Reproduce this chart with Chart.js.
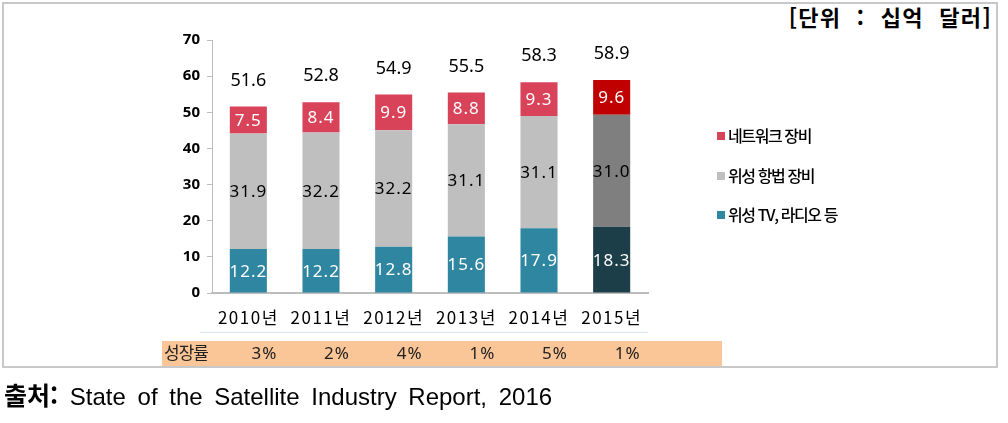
<!DOCTYPE html>
<html lang="ko">
<head>
<meta charset="utf-8">
<script src="https://cdn.jsdelivr.net/npm/chart.js@4"></script>
<style>
  html, body { margin: 0; padding: 0; background: #fff; }
  body { width: 1008px; height: 423px; position: relative; overflow: hidden;
         font-family: "Noto Sans CJK KR", "Noto Sans", sans-serif; }
  #frame { position: absolute; left: 2px; top: 2px; width: 996px; height: 366px;
           border: 2px solid #c8c8c8; box-sizing: border-box; }
  #unit { position: absolute; right: 16px; top: 0px; font-size: 22px; font-weight: 700;
          color: #000; word-spacing: 8px; letter-spacing: 1.3px; }
  #band { position: absolute; left: 162px; top: 341px; width: 560px; height: 25px; background: #fac597; }
  #sep { position: absolute; left: 200px; top: 332px; width: 448px; height: 1px; background: #dde3ea; }
  #chartWrap { position: absolute; left: 0; top: 0; width: 1008px; height: 423px; }
  #legend { position: absolute; left: 717px; top: 123px; font-size: 16px; letter-spacing: -1.4px; color: #000; font-weight: 500; }
  #legend div { height: 39.5px; display: flex; align-items: flex-start; }
  #legend span.sw { display: inline-block; width: 8px; height: 8px; margin: 9px 3px 0 0; }
  #source { position: absolute; left: 4px; top: 376px; font-family: "Liberation Sans", Arial, sans-serif;
            font-size: 24px; color: #000; word-spacing: 5px; white-space: nowrap; }
  #source b { font-family: "Noto Sans CJK KR", sans-serif; font-weight: 700; font-size: 25px; }
</style>
</head>
<body>
<div id="frame"></div>
<div id="unit">[단위 : 십억 달러]</div>
<div id="sep"></div>
<div id="band"></div>
<div id="chartWrap"><canvas id="c" width="1008" height="423"></canvas></div>
<div id="legend"></div>
<div id="source"><b>출처:</b> State of the Satellite Industry Report, 2016</div>
<script>
// ── DATA ──────────────────────────────────────────────────────
const years = ['2010년', '2011년', '2012년', '2013년', '2014년', '2015년'];
const tvRadio = [12.2, 12.2, 12.8, 15.6, 17.9, 18.3];   // 위성 TV, 라디오 등
const navEquip = [31.9, 32.2, 32.2, 31.1, 31.1, 31.0];  // 위성 항법 장비
const netEquip = [7.5, 8.4, 9.9, 8.8, 9.3, 9.6];        // 네트워크 장비
const totals = [51.6, 52.8, 54.9, 55.5, 58.3, 58.9];
const growth = ['3%', '2%', '4%', '1%', '5%', '1%'];
const yTicks = [0, 10, 20, 30, 40, 50, 60, 70];

// colours: last year is highlighted darker
const last = years.length - 1;
const pick = (normal, hi) => years.map((_, i) => i === last ? hi : normal);

const series = [
  { label: '위성 TV, 라디오 등', data: tvRadio, color: '#2f86a0', hi: '#1c3e49', text: '#fff' },
  { label: '위성 항법 장비', data: navEquip, color: '#bfbfbf', hi: '#7f7f7f', text: '#000' },
  { label: '네트워크 장비', data: netEquip, color: '#d9435a', hi: '#c00000', text: '#fff' },
];

// ── LEGEND (html, top to bottom = stack order reversed) ───────
const legend = document.getElementById('legend');
series.slice().reverse().forEach(s => {
  const row = document.createElement('div');
  row.innerHTML = `<span class="sw" style="background:${s.color}"></span>${s.label}`;
  legend.appendChild(row);
});

// ── LABEL PLUGIN ──────────────────────────────────────────────
const labelPlugin = {
  id: 'labels',
  afterDatasetsDraw(chart) {
    const { ctx } = chart;
    const x = chart.scales.x;
    ctx.save();
    ctx.textAlign = 'center';
    ctx.textBaseline = 'middle';
    ctx.font = '17px "Noto Sans", sans-serif';
    ctx.letterSpacing = '1px';
    chart.data.datasets.forEach((ds, di) => {
      const meta = chart.getDatasetMeta(di);
      meta.data.forEach((bar, i) => {
        ctx.fillStyle = series[di].text;
        const cy = (bar.y + bar.base) / 2;
        ctx.fillText(ds.data[i].toFixed(1), bar.x, cy + 1);
      });
    });
    // totals above the stack
    const top = chart.getDatasetMeta(chart.data.datasets.length - 1);
    ctx.fillStyle = '#000';
    ctx.font = '18px "Noto Sans", sans-serif';
    ctx.letterSpacing = '0px';
    top.data.forEach((bar, i) => {
      ctx.fillText(totals[i].toFixed(1), bar.x, bar.y - 26);
    });
    // category labels under the axis
    ctx.font = '17px "Noto Sans CJK KR", sans-serif';
    ctx.letterSpacing = '1.5px';
    years.forEach((y, i) => ctx.fillText(y, x.getPixelForValue(i), 318));
    // growth row (sits a little right of the bar centres)
    ctx.font = '17px "Noto Sans", sans-serif';
    ctx.letterSpacing = '1px';
    ctx.fillStyle = '#222';
    growth.forEach((g, i) => ctx.fillText(g, x.getPixelForValue(i) + 16, 354));
    ctx.font = '17px "Noto Sans CJK KR", sans-serif';
    ctx.textAlign = 'left';
    ctx.letterSpacing = '-1px';
    ctx.fillText('성장률', 164, 353);
    ctx.restore();
  }
};

new Chart(document.getElementById('c'), {
  type: 'bar',
  data: {
    labels: years,
    datasets: series.map(s => ({
      label: s.label,
      data: s.data,
      backgroundColor: pick(s.color, s.hi),
      borderWidth: 0,
      barPercentage: 0.51,
      categoryPercentage: 1.0,
    })),
  },
  options: {
    responsive: false,
    animation: false,
    layout: { padding: { left: 160, right: 360, top: 40, bottom: 90 } },
    plugins: { legend: { display: false }, tooltip: { enabled: false } },
    scales: {
      x: {
        stacked: true,
        grid: { display: false },
        border: { display: true, color: '#bdbdbd', width: 2 },
        ticks: { display: false },
        afterFit: s => { s.height = 40; },
      },
      y: {
        stacked: true,
        min: 0, max: 70,
        afterBuildTicks: s => { s.ticks = yTicks.map(v => ({ value: v })); },
        grid: { drawOnChartArea: false, drawTicks: true, tickLength: 5, color: '#bdbdbd' },
        border: { display: true, color: '#bdbdbd' },
        ticks: { color: '#000', font: { size: 15, weight: 'bold', family: '"Noto Sans", sans-serif' }, padding: 7 },
        afterFit: s => { s.width = 52; },
      },
    },
  },
  plugins: [labelPlugin],
});
</script>
</body>
</html>
